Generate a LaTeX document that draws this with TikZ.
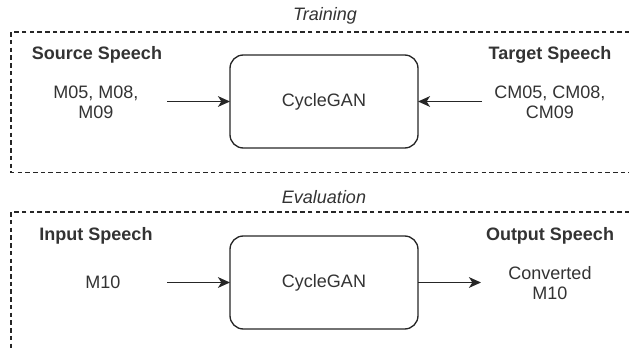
\documentclass[tikz,border=0pt]{standalone}
\usepackage{fontspec}
\setmainfont{Liberation Sans}
\usetikzlibrary{arrows.meta}
\definecolor{txt}{HTML}{333333}
\begin{document}
\begin{tikzpicture}[x=0.75pt,y=-0.75pt,
  every node/.style={inner sep=0pt,outer sep=0pt,text=txt,font=\fontsize{13.5}{15}\selectfont},
  frame/.style={draw=black!85,line width=0.8pt,dash pattern=on 3.4pt off 2.4pt},
  gan/.style={draw=black!85,line width=1pt,rounded corners=10pt,minimum width=141pt,minimum height=69.75pt},
  heading/.style={font=\fontsize{13.5}{15}\selectfont\bfseries},
  phase/.style={font=\fontsize{13.5}{15}\selectfont\itshape},
  data/.style={align=center},
  flow/.style={draw=black!85,line width=1.1pt,-{Stealth[length=9pt,width=8pt,inset=2.5pt]}}]
\useasboundingbox (0,0) rectangle (629,349);
\clip (0,0) rectangle (629,349);

% training stage
\node[phase] (training) at (325,16) {Training};
\draw[frame] (645,32) -- (11,32) -- (11,172.5) -- (645,172.5);
\node[gan] (gan1) at (324,101.5) {CycleGAN};
\node[heading] (srchead) at (97,55) {Source Speech};
\node[data] (src) at (96,102) {M05, M08,\\M09};
\node[heading] (tgthead) at (550,55) {Target Speech};
\node[data] (tgt) at (550,102) {CM05, CM08,\\CM09};
\coordinate (srcend) at (167,101.5);
\coordinate (tgtend) at (482,101.5);
\draw[flow] (srcend) -- (gan1.west);
\draw[flow] (tgtend) -- (gan1.east);

% evaluation stage
\node[phase] (evaluation) at (324,197) {Evaluation};
\draw[frame] (645,212) -- (11,212) -- (11,360);
\node[gan] (gan2) at (324,282.5) {CycleGAN};
\node[heading] (inhead) at (96,236) {Input Speech};
\node[data] (inp) at (103,282) {M10};
\node[heading] (outhead) at (550,236) {Output Speech};
\node[data] (outp) at (550,283) {Converted\\M10};
\coordinate (inend) at (167,282.5);
\coordinate (outend) at (481,282.5);
\draw[flow] (inend) -- (gan2.west);
\draw[flow] (gan2.east) -- (outend);
\end{tikzpicture}
\end{document}
